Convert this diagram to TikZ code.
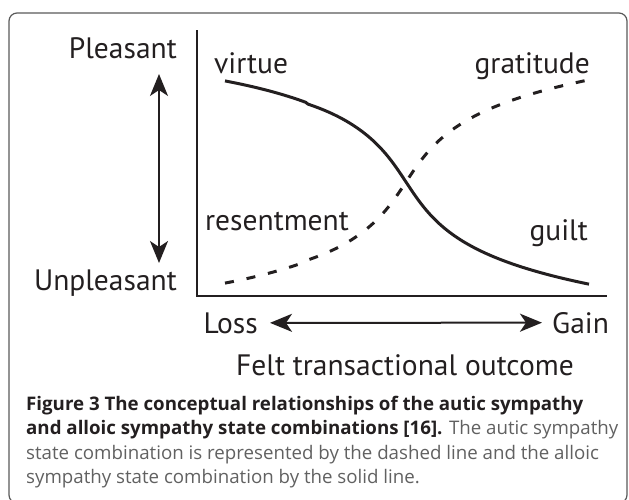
\documentclass[tikz,border=0pt]{standalone}
\usepackage{fontspec}
\setmainfont{PT Sans}
\newfontfamily\capfont{Open Sans}
\usetikzlibrary{arrows.meta}
\definecolor{ink}{HTML}{231F20}
\definecolor{capgray}{gray}{0.38}

\begin{document}
\begin{tikzpicture}[x=1pt, y=-1pt, >={Stealth[length=22pt,width=18pt,inset=6pt]},
    declare function={ash(\u)=ln(\u+sqrt(\u*\u+1));},
    lab/.style={font=\fontsize{29.5}{29}\selectfont, text=ink, inner sep=0pt}]
    \useasboundingbox (0,0) rectangle (629,499);
    \draw[rounded corners=8pt, black!65, line width=1.2pt] (9,13) rectangle (627,503);

    % axes
    \draw[line width=2.2pt, ink] (197,30) -- (197,296) -- (607,296);

    % alloic (solid) and autic (dashed) curves
    \draw[line width=3pt, ink, domain=225:589, samples=150, smooth, variable=\t]
        plot ({\t}, {182+38*ash((\t-406)/25)});
    \draw[line width=3pt, ink, dash pattern=on 9pt off 13pt, domain=225:589,
        samples=150, smooth, variable=\t]
        plot ({\t}, {182-38*ash((\t-406)/25)});

    \node[lab, anchor=base east] (pleasant) at (177,58) {Pleasant};
    \node[lab, anchor=base east] (unpleasant) at (177,290) {Unpleasant};
    \node[lab, anchor=base west] (virtue) at (214,73) {virtue};
    \node[lab, anchor=base east] (gratitude) at (590,73) {gratitude};
    \node[lab, anchor=base west] (resentment) at (205,230) {resentment};
    \node[lab, anchor=base east] (guilt) at (588,240) {guilt};

    \coordinate (up) at (159,74);
    \coordinate (down) at (159,263);
    \draw[<->, line width=2pt, ink] (up) -- (down);

    \node[lab, anchor=base east] (loss) at (258,333) {Loss};
    \node[lab, anchor=base west] (gain) at (552,333) {Gain};
    \draw[<->, line width=2pt, ink, shorten <=12pt, shorten >=10pt] (loss.east) -- (gain.west);

    \node[lab, anchor=base] (outcome) at (405,375) {Felt transactional outcome};

    \node[anchor=north west, inner sep=0pt, align=left, text=capgray,
        font=\capfont\fontsize{18.7}{21.3}\selectfont] (caption) at (26,396)
        {\textcolor{ink}{\bfseries Figure 3 The conceptual relationships of the autic sympathy}\\[3pt]
         \textcolor{ink}{\bfseries and alloic sympathy state combinations [16].} The autic sympathy\\[3pt]
         state combination is represented by the dashed line and the alloic\\[3pt]
         sympathy state combination by the solid line.};
\end{tikzpicture}
\end{document}
